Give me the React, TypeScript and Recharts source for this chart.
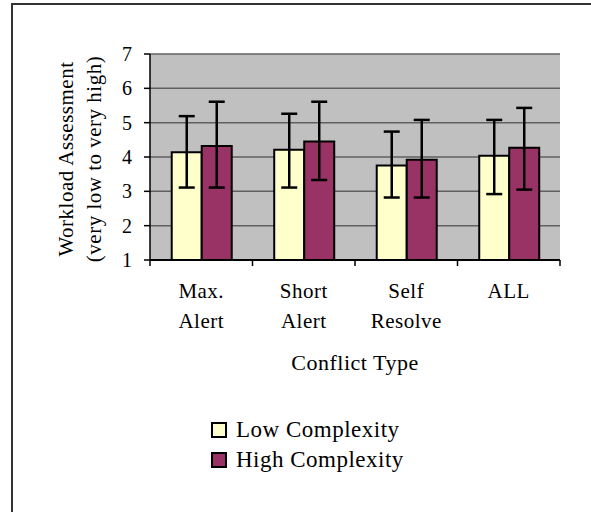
import React from "react";
import {
  BarChart,
  Bar,
  XAxis,
  YAxis,
  CartesianGrid,
  ErrorBar,
  Legend,
} from "recharts";

const categories = ["Max.\nAlert", "Short\nAlert", "Self\nResolve", "ALL"];
const lowMeans = [4.14, 4.21, 3.75, 4.04];
const highMeans = [4.32, 4.45, 3.92, 4.27];
const lowErrBottom = [3.11, 3.11, 2.82, 2.92];
const lowErrTop = [5.19, 5.26, 4.74, 5.08];
const highErrBottom = [3.11, 3.33, 2.82, 3.05];
const highErrTop = [5.61, 5.61, 5.08, 5.43];
const yTicks = [1, 2, 3, 4, 5, 6, 7];
const seriesNames = ["Low Complexity", "High Complexity"];
const seriesColors = ["#FFFFCC", "#993366"];
const yTitleLines = ["Workload Assessment", "(very low to very high)"];
const xTitle = "Conflict Type";

const data = categories.map((c, i) => ({
  category: c,
  low: lowMeans[i],
  high: highMeans[i],
  lowErr: [lowMeans[i] - lowErrBottom[i], lowErrTop[i] - lowMeans[i]],
  highErr: [highMeans[i] - highErrBottom[i], highErrTop[i] - highMeans[i]],
}));

const FONT = '"Liberation Serif", "Times New Roman", Times, serif';
const textStyle = { fontFamily: FONT, letterSpacing: "0.5px" };

function CategoryTick(props: any) {
  const { x, y, payload, index } = props;
  const half = payload && typeof payload.offset === "number" && payload.offset > 0 ? payload.offset : 51.25;
  const lines = String(payload.value).split("\n");
  const isLast = index === categories.length - 1;
  return (
    <g>
      <line x1={x - half} x2={x - half} y1={y} y2={y + 6} stroke="#000" strokeWidth={1.5} />
      {isLast && (
        <line x1={x + half} x2={x + half} y1={y} y2={y + 6} stroke="#000" strokeWidth={1.5} />
      )}
      {lines.map((l, i) => (
        <text
          key={i}
          x={x}
          y={y + 38 + i * 30}
          textAnchor="middle"
          fill="#000"
          fontSize={21}
          style={textStyle}
        >
          {l}
        </text>
      ))}
    </g>
  );
}

function ValueTick(props: any) {
  const { x, y, payload } = props;
  return (
    <text x={x} y={y} dy="0.35em" textAnchor="end" fill="#000" fontSize={20} style={{ fontFamily: FONT }}>
      {payload.value}
    </text>
  );
}

function YTitle(props: any) {
  const vb = props && props.viewBox ? props.viewBox : { x: 10, y: 54, width: 140, height: 206 };
  const cy = vb.y + vb.height / 2 + 2;
  const baselines = [vb.x + 62.5, vb.x + 91];
  return (
    <g>
      {yTitleLines.map((t, i) => (
        <text
          key={i}
          transform={`translate(${baselines[i]}, ${cy}) rotate(-90)`}
          textAnchor="middle"
          fill="#000"
          fontSize={21}
          style={textStyle}
        >
          {t}
        </text>
      ))}
    </g>
  );
}

function LegendContent(props: any) {
  const raw = props.payload && props.payload.length ? props.payload : [];
  const entries = seriesNames.map((n, i) => {
    const found = raw.find((e: any) => e.value === n);
    return { value: n, color: found && found.color ? found.color : seriesColors[i] };
  });
  return (
    <div style={{ fontFamily: FONT, fontSize: 23, letterSpacing: "0.5px", color: "#000" }}>
      {entries.map((entry: any, i: number) => (
        <div key={i} style={{ display: "flex", alignItems: "center", height: 30, lineHeight: "30px" }}>
          <span
            style={{
              display: "inline-block",
              width: 12,
              height: 12,
              background: entry.color,
              border: "2px solid #000",
              marginRight: 9,
            }}
          />
          <span style={{ whiteSpace: "nowrap" }}>{entry.value}</span>
        </div>
      ))}
    </div>
  );
}

export default function App() {
  return (
    <div style={{ position: "absolute", left: 0, top: 0, width: 591, height: 512, background: "#fff" }}>
      <div
        style={{
          position: "absolute",
          left: 11,
          top: 3,
          width: 590,
          height: 520,
          borderLeft: "2px solid #333",
          borderTop: "2px solid #333",
        }}
      />
      <div style={{ position: "absolute", left: 0, top: 0 }}>
        <BarChart
          width={591}
          height={512}
          data={data}
          margin={{ top: 54, right: 31, left: 10, bottom: 132 }}
          barCategoryGap="21.2%"
          barGap={0}
          style={{ fontFamily: FONT }}
        >
          <CartesianGrid vertical={false} fill="#C0C0C0" stroke="#606060" strokeWidth={1.5} fillOpacity={1} />
          <XAxis
            dataKey="category"
            interval={0}
            height={120}
            tickLine={false}
            tickSize={0}
            tickMargin={0}
            axisLine={{ stroke: "#000", strokeWidth: 2 }}
            tick={<CategoryTick />}
            label={{
              value: xTitle,
              position: "insideBottom",
              offset: 10,
              fill: "#000",
              fontSize: 22,
              style: textStyle,
            }}
          />
          <YAxis
            width={140}
            domain={[1, 7]}
            ticks={yTicks}
            interval={0}
            tickSize={6}
            tickMargin={12}
            tickLine={{ stroke: "#000", strokeWidth: 1.5 }}
            axisLine={{ stroke: "#000", strokeWidth: 1.5 }}
            tick={<ValueTick />}
            label={{ content: (p: any) => <YTitle {...p} /> }}
          />
          <YAxis
            yAxisId="frame"
            orientation="right"
            width={0}
            domain={[1, 7]}
            tick={false}
            tickLine={false}
            axisLine={{ stroke: "#808080", strokeWidth: 1.5 }}
          />
          <Legend
            layout="vertical"
            align="center"
            verticalAlign="middle"
            content={<LegendContent />}
            wrapperStyle={{ left: 211, top: 415, width: "auto", height: "auto" }}
          />
          <Bar
            dataKey="low"
            name={seriesNames[0]}
            fill={seriesColors[0]}
            stroke="#000"
            strokeWidth={2}
            isAnimationActive={false}
          >
            <ErrorBar dataKey="lowErr" width={8} stroke="#000" strokeWidth={2.5} isAnimationActive={false} />
          </Bar>
          <Bar
            dataKey="high"
            name={seriesNames[1]}
            fill={seriesColors[1]}
            stroke="#000"
            strokeWidth={2}
            isAnimationActive={false}
          >
            <ErrorBar dataKey="highErr" width={8} stroke="#000" strokeWidth={2.5} isAnimationActive={false} />
          </Bar>
        </BarChart>
      </div>
    </div>
  );
}
